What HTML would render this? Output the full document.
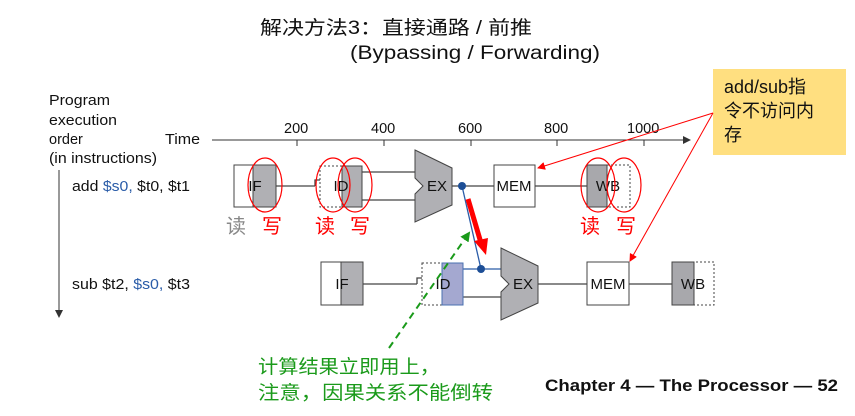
<!DOCTYPE html>
<html><head><meta charset="utf-8"><style>
body{margin:0;background:#fff;width:855px;height:411px;overflow:hidden}
svg{font-family:"Liberation Sans","Noto Sans CJK SC",sans-serif}
</style></head><body>
<svg width="855" height="411" viewBox="0 0 855 411" xmlns="http://www.w3.org/2000/svg">
<defs>
<marker id="ar" markerWidth="8" markerHeight="8" refX="7" refY="4" orient="auto" markerUnits="userSpaceOnUse"><path d="M0,0 L8,4 L0,8z" fill="#f00"/></marker>
<marker id="ag" markerWidth="10" markerHeight="10" refX="8" refY="5" orient="auto" markerUnits="userSpaceOnUse"><path d="M0,0 L10,5 L0,10z" fill="#1a9a1a"/></marker>
<marker id="ab" markerWidth="8" markerHeight="8" refX="7" refY="4" orient="auto" markerUnits="userSpaceOnUse"><path d="M0,0 L8,4 L0,8z" fill="#333"/></marker>
</defs>
<text x="260" y="34" font-size="19" fill="#111" textLength="272" lengthAdjust="spacingAndGlyphs">解决方法3：直接通路 /  前推</text>
<text x="350" y="59" font-size="19" fill="#111" textLength="250" lengthAdjust="spacingAndGlyphs">(Bypassing  /  Forwarding)</text>

<g font-size="14.5" fill="#111">
<text x="49" y="105" textLength="61" lengthAdjust="spacingAndGlyphs">Program</text><text x="49" y="125" textLength="68" lengthAdjust="spacingAndGlyphs">execution</text><text x="49" y="144">order</text><text x="49" y="163" textLength="108" lengthAdjust="spacingAndGlyphs">(in instructions)</text>
<text x="165" y="144" textLength="35" lengthAdjust="spacingAndGlyphs">Time</text>
<text x="72" y="191" textLength="118" lengthAdjust="spacingAndGlyphs">add <tspan fill="#2a5ca8">$s0,</tspan> $t0, $t1</text>
<text x="72" y="289" textLength="118" lengthAdjust="spacingAndGlyphs">sub $t2, <tspan fill="#2a5ca8">$s0,</tspan> $t3</text>
<text x="284" y="133">200</text><text x="371" y="133">400</text><text x="458" y="133">600</text><text x="544" y="133">800</text><text x="627" y="133">1000</text>
</g>
<line x1="59" y1="170" x2="59" y2="317" stroke="#333" stroke-width="1" marker-end="url(#ab)"/>
<line x1="212" y1="140" x2="690" y2="140" stroke="#333" marker-end="url(#ab)"/>
<g stroke="#333"><line x1="297" y1="140" x2="297" y2="146"/><line x1="384" y1="140" x2="384" y2="146"/><line x1="471" y1="140" x2="471" y2="146"/><line x1="557" y1="140" x2="557" y2="146"/><line x1="644" y1="140" x2="644" y2="146"/></g>

<g stroke="#444" stroke-width="1.3">
<line x1="276" y1="186" x2="315" y2="186"/><path d="M315,186 v-6 h5" fill="none"/>
<line x1="362" y1="172" x2="415" y2="172"/><line x1="362" y1="200" x2="415" y2="200"/>
<line x1="452" y1="186" x2="494" y2="186"/><line x1="535" y1="186" x2="587" y2="186"/>
<line x1="363" y1="284" x2="417" y2="284"/><path d="M417,284 v-6 h5" fill="none"/>
<line x1="463" y1="297" x2="501" y2="297"/><line x1="538" y1="284" x2="587" y2="284"/><line x1="629" y1="284" x2="672" y2="284"/>
</g>
<rect x="234" y="165" width="42" height="42" fill="#fff" stroke="#444"/><rect x="253" y="165" width="23" height="42" fill="#b0b0b4" stroke="#444"/>
<rect x="320" y="166" width="42" height="41" fill="#fff" stroke="#444" stroke-dasharray="2,2"/><rect x="342" y="166" width="20" height="41" fill="#b0b0b4" stroke="#444"/>
<path d="M415,150 L452,168 L452,205 L415,222 L415,194 L423,186 L415,178Z" fill="#b0b0b4" stroke="#444"/>
<rect x="494" y="165" width="41" height="42" fill="#fff" stroke="#444"/>
<rect x="587" y="165" width="43" height="42" fill="#fff" stroke="#444" stroke-dasharray="2,2"/><rect x="587" y="165" width="20" height="42" fill="#a8a8ac" stroke="#444"/>
<g font-size="15" fill="#111" text-anchor="middle">
<text x="255" y="191">IF</text><text x="341" y="191">ID</text><text x="437" y="191">EX</text><text x="514" y="191">MEM</text><text x="608" y="191">WB</text>
</g>
<line x1="462" y1="269" x2="501" y2="269" stroke="#2a5ca8" stroke-width="1.3"/>
<rect x="321" y="262" width="42" height="43" fill="#fff" stroke="#444"/><rect x="341" y="262" width="22" height="43" fill="#b0b0b4" stroke="#444"/>
<rect x="422" y="263" width="41" height="42" fill="#fff" stroke="#444" stroke-dasharray="2,2"/><rect x="442" y="263" width="21" height="42" fill="#a4a8d0" stroke="#4a70b0"/>
<path d="M501,248 L538,266 L538,303 L501,320 L501,292 L509,284 L501,276Z" fill="#b0b0b4" stroke="#444"/>
<rect x="587" y="262" width="42" height="43" fill="#fff" stroke="#444"/>
<rect x="672" y="262" width="42" height="43" fill="#fff" stroke="#444" stroke-dasharray="2,2"/><rect x="672" y="262" width="22" height="43" fill="#a8a8ac" stroke="#444"/>
<g font-size="15" fill="#111" text-anchor="middle">
<text x="342" y="289">IF</text><text x="443" y="289">ID</text><text x="523" y="289">EX</text><text x="608" y="289">MEM</text><text x="693" y="289">WB</text>
</g>
<line x1="462" y1="186" x2="481" y2="269" stroke="#2a5ca8" stroke-width="1.3"/>
<circle cx="462" cy="186" r="4" fill="#1d4e96"/><circle cx="481" cy="269" r="4" fill="#1d4e96"/>
<line x1="468" y1="199" x2="481" y2="243" stroke="#f00" stroke-width="5"/>
<path d="M474,241 L486,255 L488,238Z" fill="#f00"/>
<line x1="389" y1="348" x2="469" y2="233" stroke="#1a9a1a" stroke-width="2" stroke-dasharray="7,5" marker-end="url(#ag)"/>
<g fill="none" stroke="#f00" stroke-width="1.2">
<ellipse cx="265" cy="185" rx="17" ry="27"/><ellipse cx="333" cy="185" rx="17" ry="27"/><ellipse cx="355" cy="185" rx="17" ry="27"/>
<ellipse cx="598" cy="185" rx="17" ry="27"/><ellipse cx="624" cy="185" rx="17" ry="27"/>
</g>
<g font-size="20">
<text x="226" y="233" fill="#888">读</text><text x="262" y="233" fill="#f00">写</text><text x="315" y="233" fill="#f00">读</text><text x="350" y="233" fill="#f00">写</text>
<text x="580" y="233" fill="#f00">读</text><text x="616" y="233" fill="#f00">写</text>
</g>
<rect x="713" y="69" width="133" height="86" fill="#ffdf80"/>
<g font-size="18" fill="#111"><text x="724" y="93">add/sub指</text><text x="724" y="117">令不访问内</text><text x="724" y="141">存</text></g>
<line x1="713" y1="113" x2="538" y2="168" stroke="#f00" marker-end="url(#ar)"/>
<line x1="713" y1="113" x2="630" y2="261" stroke="#f00" marker-end="url(#ar)"/>
<g font-size="19" fill="#1a9a1a"><text x="258" y="373" textLength="182" lengthAdjust="spacingAndGlyphs">计算结果立即用上，</text><text x="258" y="399" textLength="235" lengthAdjust="spacingAndGlyphs">注意，因果关系不能倒转</text></g>
<text x="545" y="391" font-size="17" font-weight="bold" fill="#111" textLength="293" lengthAdjust="spacingAndGlyphs">Chapter 4 — The Processor — 52</text>
</svg>
</body></html>
